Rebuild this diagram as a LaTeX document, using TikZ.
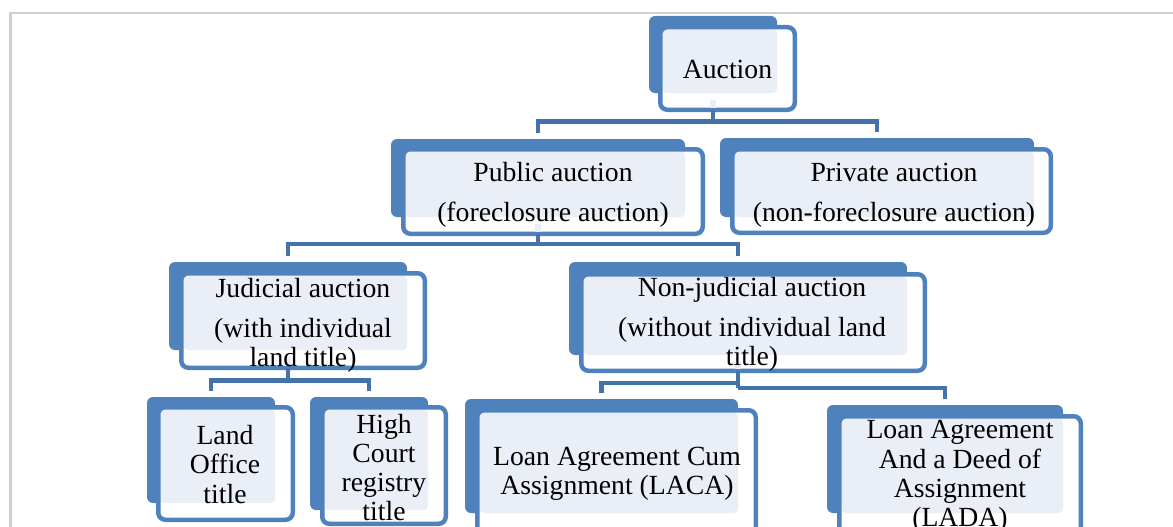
\documentclass[tikz,border=0pt]{standalone}
\usepackage{fontspec}
\setmainfont{Liberation Serif}
\usetikzlibrary{fit}
\definecolor{boxblue}{HTML}{4F81BD}
\definecolor{lightbox}{HTML}{EAEFF7}
\definecolor{connblue}{HTML}{4672AA}
\definecolor{framegray}{HTML}{CFCFCF}
\tikzset{
  backbox/.style={fill=boxblue, rounded corners=6pt, inner sep=0pt, outer sep=0pt},
  frontbox/.style={fill=white, rounded corners=7pt, inner sep=0pt, outer sep=0pt},
  frontline/.style={draw=boxblue, line width=4.5pt, rounded corners=7pt},
  lightpanel/.style={fill=lightbox, rounded corners=4pt},
  conn/.style={draw=connblue, line width=4.5pt},
  lightconn/.style={draw=lightbox, line width=6pt},
  boxtext/.style={inner sep=0pt, outer sep=0pt, align=center, text=black,
    font=\fontsize{27.7pt}{29.3pt}\selectfont},
}
% #1 name, #2-#5 back box corners, #6-#9 front box outer corners
\newcommand\smartbox[9]{%
  \node[backbox, fit={(#2,#3) (#4,#5)}] (#1B) {};
  \node[frontbox, fit={(#6+2.25,#7+2.25) (#8-2.25,#9-2.25)}] (#1F) {};
  \fill[lightpanel] (#6+4.5,#7+4.5) rectangle (#4,#5);
  \draw[frontline] (#1F.south west) rectangle (#1F.north east);
}
\begin{document}
\begin{tikzpicture}[x=1pt, y=-1pt]
\useasboundingbox (0,0) rectangle (1173,527);
\draw[framegray, line width=2.2pt] (10.5,527) -- (10.5,12.8) -- (1173,12.8);

% boxes
\smartbox{auc}{649}{16}{777}{93}{658}{25}{797}{112}
\smartbox{pub}{391}{139}{685}{217}{401}{147}{705}{236}
\smartbox{priv}{720}{138}{1034}{217}{730}{147}{1053}{235}
\smartbox{jud}{169}{262}{407}{350}{179}{271}{427}{370}
\smartbox{nj}{569}{262}{907}{355}{579}{272}{927}{373}
\smartbox{land}{147}{397}{275}{503}{156}{405}{295}{522}
\smartbox{high}{310}{397}{428}{510}{320}{405}{448}{526}
\smartbox{laca}{465}{399}{738}{513}{475}{408}{758}{545}
\smartbox{lada}{827}{405}{1063}{513}{837}{414}{1083}{545}

% light stubs inside parent boxes
\foreach \p in {auc,pub,jud,nj}{
  \draw[lightconn] ([yshift=-6.5pt]\p B.south) -- ([yshift=2.25pt]\p B.south |- \p F.south);
}

% texts
\node[boxtext] (aucT) at (727.5,69) {Auction};
\node[boxtext] (pubT) at (553,195) {Public auction\\[10.7pt](foreclosure auction)};
\node[boxtext] (privT) at (894,195) {Private auction\\[10.7pt](non-foreclosure auction)};
\node[boxtext] (judT) at (303,325) {Judicial auction\\[10.7pt](with individual\\land title)};
\node[boxtext] (njT) at (752,324.5) {Non-judicial auction\\[10.7pt](without individual land\\title)};
\node[boxtext] (landT) at (225,464.5) {Land\\Office\\title};
\node[boxtext] (highT) at (384,467.5) {High\\Court\\registry\\title};
\node[boxtext] (lacaT) at (617,474) {Loan Agreement Cum\\Assignment (LACA)};
\node[boxtext] (ladaT) at (960,476.5) {Loan Agreement\\And a Deed of\\Assignment\\(LADA)};

% bus coordinates
\coordinate (busA) at ([yshift=-11.5pt]aucB.south |- aucF.south);
\coordinate (busP) at ([yshift=-10pt]pubB.south |- pubF.south);
\coordinate (busJ) at ([yshift=-12.5pt]judB.south |- judF.south);
\coordinate (busN1) at ([yshift=-12pt]njB.south |- njF.south);
\coordinate (busN2) at ([yshift=-17pt]njB.south |- njF.south);

% connectors
\draw[conn] (aucB.south |- aucF.south) -- (busA);
\draw[conn, shorten >=6pt] (busA) -| (pubB.north);
\draw[conn, shorten >=6pt] (busA) -| (privB.north);

\draw[conn] (pubB.south |- pubF.south) -- (busP);
\draw[conn, shorten >=6pt] (busP) -| (judB.north);
\draw[conn, shorten >=6pt] (busP) -| (njB.north);

\draw[conn] (judB.south |- judF.south) -- (busJ);
\draw[conn, shorten >=6pt] (busJ) -| (landB.north);
\draw[conn, shorten >=6pt] (busJ) -| (highB.north);

\draw[conn] (njB.south |- njF.south) -- (busN2);
\draw[conn, shorten >=6pt] (busN1) -| (lacaB.north);
\draw[conn, shorten >=6pt] (busN2) -| (ladaB.north);
\end{tikzpicture}
\end{document}
